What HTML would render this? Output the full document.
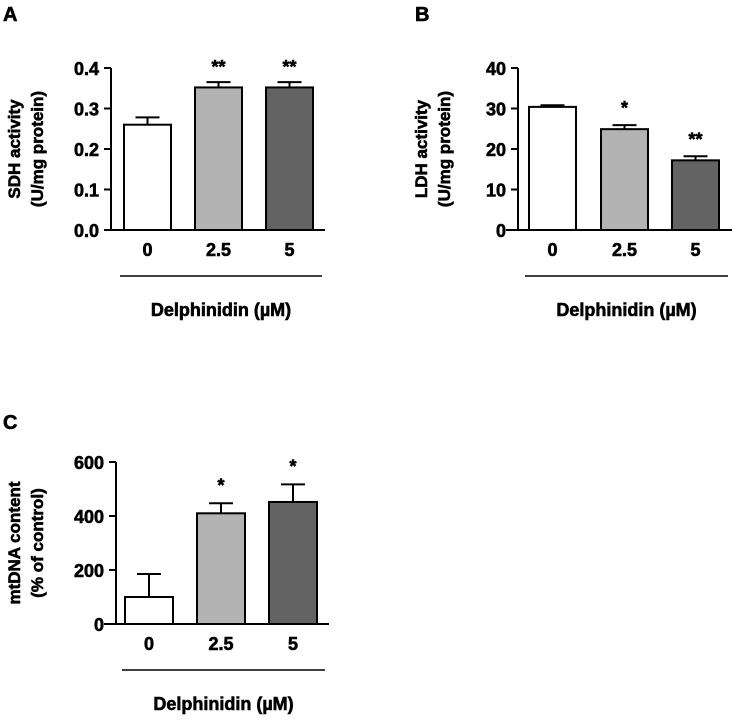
<!DOCTYPE html>
<html><head><meta charset="utf-8"><style>
body{margin:0;background:#fff;}
svg{display:block;font-family:"Liberation Sans",Arial,sans-serif;font-weight:bold;}
svg text{stroke:#000;stroke-width:0.6;}
</style></head><body>
<svg id="fig" width="733" height="720" viewBox="0 0 733 720"></svg>
<script>
const categories = ["0","2.5","5"];
const sdhValues = [0.26, 0.352, 0.352];
const sdhErrors = [0.018, 0.013, 0.013];
const sdhStars = ["", "**", "**"];
const sdhTicks = [0, 0.1, 0.2, 0.3, 0.4];
const sdhTickLabels = ["0.0","0.1","0.2","0.3","0.4"];
const ldhValues = [30.4, 24.9, 17.2];
const ldhErrors = [0.4, 1.0, 1.0];
const ldhStars = ["", "*", "**"];
const ldhTicks = [0, 10, 20, 30, 40];
const ldhTickLabels = ["0","10","20","30","40"];
const mtValues = [100, 410, 452];
const mtErrors = [85, 37, 65];
const mtStars = ["", "*", "*"];
const mtTicks = [0, 200, 400, 600];
const mtTickLabels = ["0","200","400","600"];
const barColors = ["#ffffff","#b3b3b3","#636363"];

const NS="http://www.w3.org/2000/svg";
const svg=document.getElementById('fig');
function mk(tag,attrs,parent,txt){const e=document.createElementNS(NS,tag);for(const k in attrs)e.setAttribute(k,attrs[k]);if(txt!==undefined)e.textContent=txt;(parent||svg).appendChild(e);return e;}

function panel(cfg){
  const g=mk('g',{});
  
  
  const ymax=cfg.ticks[cfg.ticks.length-1];
  const y=v=>cfg.y0-(v/ymax)*(cfg.y0-cfg.yTop);
  const lbl=mk('text',{x:cfg.letterX,y:cfg.letterY,'font-size':20},g,cfg.letter);
  
  
  const ya=mk('line',{x1:cfg.ax,y1:cfg.yTop,x2:cfg.ax,y2:cfg.y0,stroke:'#000','stroke-width':2},g);
  
  
  const xa=mk('line',{x1:cfg.xa0,y1:cfg.y0,x2:cfg.xa1,y2:cfg.y0,stroke:'#000','stroke-width':2},g);
  
  
  cfg.ticks.forEach((t,i)=>{
    mk('line',{x1:cfg.ax-7,y1:y(t),x2:cfg.ax,y2:y(t),stroke:'#000','stroke-width':2},g);
    const tl=mk('text',{x:cfg.ax-12,y:y(t)+7,'text-anchor':'end','font-size':18},g,cfg.tickLabels[i]);
    
    
  });
  cfg.values.forEach((v,i)=>{
    const bx=cfg.barX[i], bw=cfg.barW;
    const cx=bx+bw/2;
    const et=y(v+cfg.errors[i]);
    mk('line',{x1:cx,y1:et,x2:cx,y2:y(v),stroke:'#000','stroke-width':2},g);
    mk('line',{x1:cx-12,y1:et,x2:cx+12,y2:et,stroke:'#000','stroke-width':2},g);
    const r=mk('rect',{x:bx,y:y(v),width:bw,height:cfg.y0-y(v),fill:barColors[i],stroke:'#000','stroke-width':2},g);
    
    
    if(cfg.stars[i]){
      const s=mk('text',{x:cx,y:et-cfg.starGap,'text-anchor':'middle','font-size':18},g,cfg.stars[i]);
      
      
    }
    const xl=mk('text',{x:cx,y:cfg.y0+26,'text-anchor':'middle','font-size':18},g,categories[i]);
    
    
  });
  mk('line',{x1:cfg.l0,y1:cfg.y0+46,x2:cfg.l1,y2:cfg.y0+46,stroke:'#000','stroke-width':1.5},g);
  const xt=mk('text',{x:(cfg.l0+cfg.l1)/2,y:cfg.y0+86,'text-anchor':'middle','font-size':18},g,'Delphinidin (µM)');
  
  
  const cy=(cfg.yTop+cfg.y0)/2;
  const t1=mk('text',{x:0,y:0,'text-anchor':'middle','font-size':17,transform:`translate(${cfg.tx+6},${cy}) rotate(-90)`},g,cfg.title1);
  
  
  const t2=mk('text',{x:0,y:0,'text-anchor':'middle','font-size':17,transform:`translate(${cfg.tx+29},${cy}) rotate(-90)`},g,cfg.title2);
  
  
}

panel({name:'panel-a-sdh',letter:'A',letterX:3,letterY:21,ax:111,xa0:104,xa1:325,yTop:68,y0:230,
  ticks:sdhTicks,tickLabels:sdhTickLabels,values:sdhValues,errors:sdhErrors,stars:sdhStars,
  barX:[124,195,266],barW:47,starGap:9,l0:120,l1:322,tx:14,title1:'SDH activity',title2:'(U/mg protein)'});
panel({name:'panel-b-ldh',letter:'B',letterX:415,letterY:21,ax:518,xa0:506,xa1:732,yTop:68,y0:230,
  ticks:ldhTicks,tickLabels:ldhTickLabels,values:ldhValues,errors:ldhErrors,stars:ldhStars,
  barX:[529,601,672],barW:47,starGap:11,l0:525,l1:728,tx:421,title1:'LDH activity',title2:'(U/mg protein)'});
panel({name:'panel-c-mtdna',letter:'C',letterX:3,letterY:429,ax:116,xa0:104,xa1:329,yTop:462,y0:624,
  ticks:mtTicks,tickLabels:mtTickLabels,values:mtValues,errors:mtErrors,stars:mtStars,
  barX:[125,197,269],barW:48,starGap:12,l0:122,l1:325,tx:14,title1:'mtDNA content',title2:'(% of control)'});
</script>
</body></html>
